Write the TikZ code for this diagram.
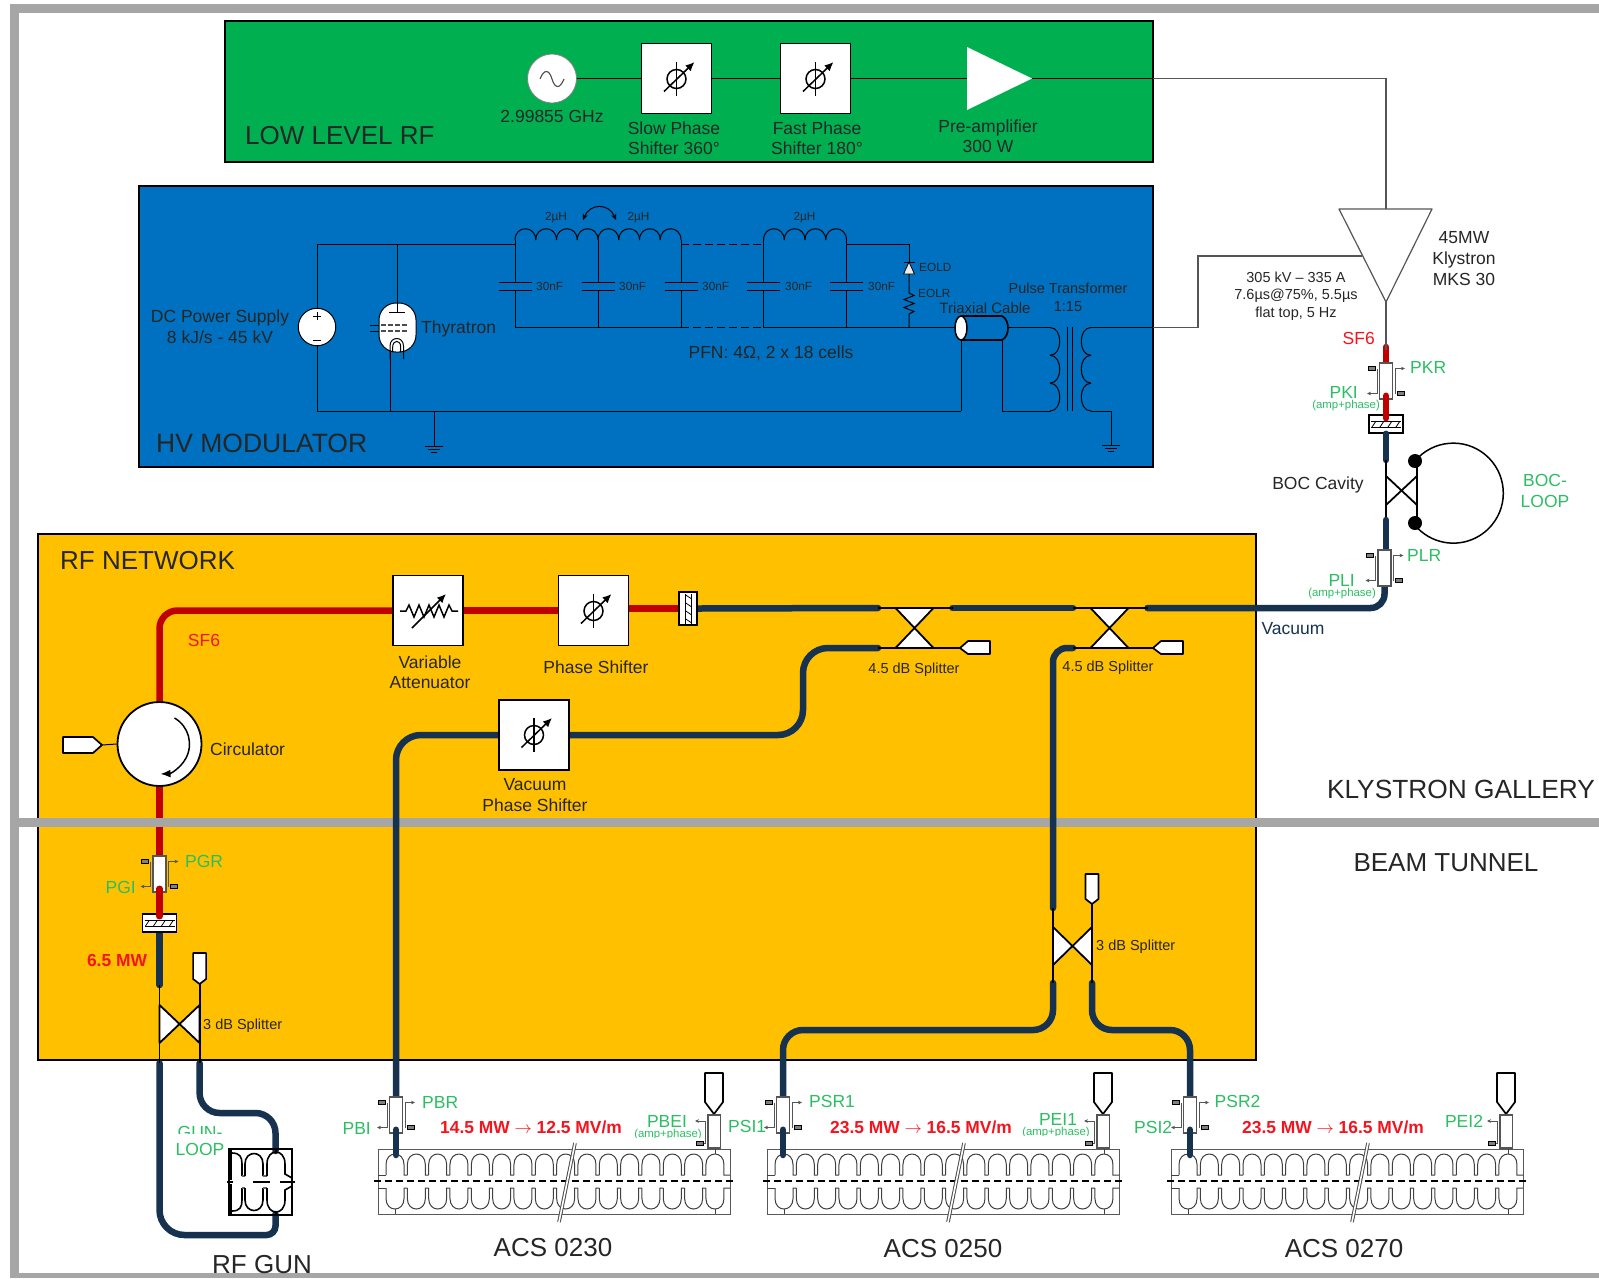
\documentclass[tikz,border=0pt]{standalone}
\usepackage{fontspec}
\setmainfont{Liberation Sans}
\usetikzlibrary{arrows.meta,calc,shapes.geometric}
\pgfdeclarelayer{bglay}\pgfdeclarelayer{redlay}\pgfdeclarelayer{bandlay}\pgfdeclarelayer{navylay}\pgfdeclarelayer{fglay}
\pgfsetlayers{bglay,redlay,bandlay,navylay,main,fglay}
\definecolor{cgreen}{HTML}{00B050}
\definecolor{cblue}{HTML}{0070C0}
\definecolor{corange}{HTML}{FFC000}
\definecolor{cband}{HTML}{A6A6A6}
\definecolor{cred}{HTML}{C00000}
\definecolor{cnavy}{HTML}{17324F}
\definecolor{lgreen}{HTML}{2BBF62}
\definecolor{lred}{HTML}{F5141E}
\definecolor{tdark}{HTML}{262626}
\definecolor{wgray}{HTML}{555555}
\newcommand{\fsz}[1]{\fontsize{#1}{#1}\selectfont}
\tikzset{
  t26/.style={inner sep=0pt,align=center,text=tdark,font=\fsz{26}},
  t17/.style={inner sep=0pt,align=center,text=tdark,font=\fontsize{17.5}{20.5}\selectfont},
  t14/.style={inner sep=0pt,align=center,text=tdark,font=\fontsize{14.5}{17.5}\selectfont},
  t12/.style={inner sep=0pt,align=center,text=tdark,font=\fsz{11.8}},
  g17/.style={t17,text=lgreen},
  g11/.style={inner sep=0pt,text=lgreen,font=\fsz{11.4}},
  rb17/.style={inner sep=0pt,text=lred,font=\fsz{17.4}\bfseries},
  areabox/.style={draw=black,line width=1.6pt},
  wire/.style={draw=black,line width=1pt},
  gwire/.style={draw=wgray,line width=1.2pt},
  thin wg/.style={draw=black,line width=1.8pt},
  redw/.style={draw=cred,line width=6.5pt,line cap=round},
  navyw/.style={draw=cnavy,line width=6.5pt,line cap=round},
  whitebox/.style={draw=black,fill=white,line width=1.8pt,minimum width=70pt,minimum height=70pt,inner sep=0pt},
  coupl/.style={draw=wgray,fill=white,line width=1.5pt,minimum width=13pt,minimum height=36pt,inner sep=0pt},
  arm/.style={draw=wgray,line width=1pt},
  armarrow/.style={draw=wgray,line width=1pt,-{Stealth[length=4pt,width=3.6pt]}},
  term/.style={draw=black,fill=gray,line width=.6pt},
  loadsh/.style={draw=black,fill=white,line width=1.7pt,line join=round},
  splw/.style={draw=black,fill=white,line width=1.8pt,line join=round},
  cav/.style={draw=black!75,line width=1pt},
  winbox/.style={draw=black,fill=white,line width=1.6pt,inner sep=0pt},
  symb/.style={draw=black,line width=1.5pt},
  symba/.style={draw=black,line width=1.5pt,-{Latex[length=9pt,width=8pt]}},
  phasesym/.pic={
    \draw[symb] (0,0) circle[radius=9.5];
    \draw[symb] (0,-17) -- (0,17);
    \draw[symba] (-12.5,12.5) -- (18,-17);
  },
  winh/.pic={
    \draw[black,line width=1pt] (-15,-3) -- (15,-3) (-15,3) -- (15,3);
    \foreach \q in {-12,-4,4,12}{\draw[black,line width=.8pt] (\q-2,3) -- (\q+2,-3);}
  },
}
\newcommand{\CouplerBoth}[3]{%
  \node[coupl] (#1) at (#2,#3) {};
  \begin{scope}[shift={(#2,#3)}]
    \draw[armarrow] (-9,-12.5) -- (-9,12.5) -- (-19,12.5);
    \draw[armarrow] (9,12.5) -- (9,-12.5) -- (19,-12.5);
    \draw[term] (-18,-14.5) rectangle (-11,-10.5);
    \draw[term] (11,10.5) rectangle (18,14.5);
  \end{scope}}
\newcommand{\CouplerLeft}[3]{%
  \node[coupl,minimum height=33pt,minimum width=12.5pt] (#1) at (#2,#3) {};
  \begin{scope}[shift={(#2,#3)}]
    \draw[armarrow] (-8.5,11.5) -- (-8.5,-10.5) -- (-19,-10.5);
    \draw[arm] (-8.5,11.5) -- (-11,11.5);
    \draw[term] (-18,9.5) rectangle (-11,13.5);
  \end{scope}}
\newcommand{\TopLoad}[2]{%
  \draw[loadsh] (#2-9,1073) -- (#2+9,1073) -- (#2+9,1102) -- (#2,1114) -- (#2-9,1102) -- cycle;
  \coordinate (#1) at (#2,1114);}
\newcommand{\Accel}[2]{%
  \node[draw=black!65,line width=1pt,minimum width=352pt,minimum height=65pt,inner sep=0pt] (#2) at (#1+176,1181.5) {};
  \foreach \sgn in {1,-1}{
    \begin{scope}[shift={(#1,1181.5)},yscale=\sgn]
      \draw[cav] (0,-6.5) -- (8,-6.5);
      \foreach \i in {0,...,15}{
        \pgfmathsetmacro\xa{8+\i*21.33}
        \pgfmathsetmacro\xb{\xa+18}
        \pgfmathsetmacro\xc{\i<15 ? \xb+3.33 : 352}
        \draw[cav] (\xa,-6.5) -- (\xa,-17) .. controls (\xa,-31) and (\xb,-31) .. (\xb,-17) -- (\xb,-6.5) -- (\xc,-6.5);
      }
      \draw[cav] (17,-27.5) -- (17,-32.5);
      \draw[cav] (337,-27.5) -- (337,-32.5);
    \end{scope}}
  \draw[black,line width=1.2pt,dash pattern=on 7pt off 4pt] (#1-4,1181) -- (#1+357,1181);
  \draw[black!70,line width=3.6pt] (#1+197,1143) -- (#1+181,1222);
  \draw[white,line width=1.6pt] (#1+197,1143) -- (#1+181,1222);}
\newcommand{\Inductor}[1]{%
  \draw[wire] (#1,244) -- (#1,240);
  \foreach \i in {0,1,2,3}{
    \draw[wire] ({#1+\i*20.75},240) .. controls +(0,-15) and +(0,-15) .. ({#1+(\i+1)*20.75},240);}
  \draw[wire] (#1+83,240) -- (#1+83,244);}
\newcommand{\Capac}[1]{%
  \draw[wire] (#1,244) -- (#1,282) (#1,290) -- (#1,327.5);
  \draw[wire] (#1-16.5,282) -- (#1+16.5,282) (#1-16.5,290) -- (#1+16.5,290);}
\newcommand{\Ground}[2]{%
  \draw[wire] (#1-9,#2) -- (#1+9,#2);
  \draw[wire] (#1-6,#2+3) -- (#1+6,#2+3);
  \draw[wire] (#1-3,#2+6) -- (#1+3,#2+6);}
\begin{document}
\begin{tikzpicture}[x=1pt,y=-1pt]
\useasboundingbox (0,0) rectangle (1599,1278);
\begin{pgfonlayer}{bglay}
  \fill[white] (0,0) rectangle (1599,1278);
  \node[areabox,fill=cgreen,minimum width=928pt,minimum height=141pt,inner sep=0pt] (llrfbox) at (689,91.5) {};
  \node[areabox,fill=cblue,minimum width=1014pt,minimum height=281pt,inner sep=0pt] (hvbox) at (646,326.5) {};
  \node[areabox,fill=corange,minimum width=1218pt,minimum height=526pt,inner sep=0pt] (netbox) at (647,797) {};
\end{pgfonlayer}
\begin{pgfonlayer}{bandlay}
  \fill[cband] (10,4) rectangle (1599,13);
  \fill[cband] (10,4) rectangle (18.5,1278);
  \fill[cband] (10,1273) rectangle (1599,1278);
  \fill[cband] (10,818) rectangle (1599,827);
\end{pgfonlayer}

% ---- LOW LEVEL RF
\node[draw=black!50,fill=white,circle,minimum size=49pt,inner sep=0pt,line width=.8pt] (sine) at (552,78.5) {};
\draw[black!70,line width=1.1pt] (540,79) .. controls (544,69) and (549,69) .. (552,79) .. controls (555,89) and (560,89) .. (564,79);
\node[whitebox] (ps1) at (676.5,78.5) {};
\node[whitebox] (ps2) at (815.5,78.5) {};
\pic at (676.5,79) {phasesym};
\pic at (815.5,79) {phasesym};
\coordinate (ampa) at (967,47);
\coordinate (ampb) at (967,110);
\coordinate (ampt) at (1032,78.5);
\fill[white] (ampa) -- (ampt) -- (ampb) -- cycle;
\draw[wire] (sine.east) -- (ps1.west);
\draw[wire] (ps1.east) -- (ps2.west);
\draw[wire] (ps2.east) -- (ampa |- ps2.east);
\coordinate (llrfr) at (1153,78.5);
\coordinate (klyup) at (1386,78.5);
\coordinate (klytopc) at (1386,209);
\draw[wire] (ampt) -- (llrfr);
\draw[gwire] (llrfr) -- (klyup) -- (klytopc);
\node[t26,anchor=west] (tllrf) at (245,136) {LOW LEVEL RF};
\node[t17] (tfreq) at (552,116) {2.99855 GHz};
\node[t17] (tslow) at (674,138) {Slow Phase\\Shifter 360°};
\node[t17] (tfast) at (817,138) {Fast Phase\\Shifter 180°};
\node[t17] (tpre) at (988,136) {Pre-amplifier\\300 W};

% ---- HV MODULATOR
\node[draw=black,fill=white,circle,minimum size=37.5pt,inner sep=0pt,line width=1pt] (dcsrc) at (317,327) {};
\draw[black,line width=1pt] (313,316) -- (321,316) (317,312) -- (317,320) (313,340) -- (321,340);
\coordinate (wiretl) at (317,244);
\coordinate (wirebl) at (317,411);
\coordinate (wiretr) at (515,244);
\coordinate (wirebot) at (961,411);
\draw[wire] (dcsrc.north) -- (wiretl) -- (wiretr);
\draw[wire] (dcsrc.south) -- (wirebl) -- (wirebot);
\node[draw=black,fill=white,rounded corners=17pt,minimum width=37pt,minimum height=49pt,inner sep=0pt,line width=1pt] (thy) at (397.5,327.5) {};
\draw[wire] (397,244) -- (397,312);
\draw[wire] (389,312) -- (405,312);
\draw[wire] (370,325) -- (379,325) (370,331) -- (379,331);
\draw[black!70,line width=1.3pt,dash pattern=on 5pt off 2pt] (381,325) -- (408,325) (381,331) -- (408,331);
\draw[wire] (390,359) -- (390,346) .. controls (390,336) and (403.5,336) .. (403.5,346) -- (403.5,359);
\draw[wire] (392.7,352) -- (392.7,347) .. controls (392.7,339.5) and (400.7,339.5) .. (400.7,347) -- (400.7,352);
\draw[wire] (390,352) -- (390,411);
\draw[wire] (434,411) -- (434,446);
\Ground{434}{446}
\node[t17] (tdc) at (220,326.5) {DC Power Supply\\8 kJ/s - 45 kV};
\node[t17,anchor=west,text=black!85] (tthy) at (421,329) {Thyratron};
\node[t26,anchor=west,font=\fsz{26.5}] (thv) at (156,443) {HV MODULATOR};

\Inductor{515}
\Inductor{598}
\Inductor{763.5}
\Capac{515}
\Capac{598}
\Capac{681}
\Capac{763.5}
\Capac{846.5}
\coordinate (pfnb) at (515,327.5);
\coordinate (triaxl) at (955,327.5);
\draw[wire,dash pattern=on 8pt off 4pt] (681,244) -- (763.5,244);
\draw[wire,dash pattern=on 8pt off 4pt] (681,327.5) -- (763.5,327.5);
\draw[wire] (pfnb) -- (681,327.5);
\draw[wire] (763.5,327.5) -- (triaxl);
\draw[wire] (846.5,244) -- (909,244) -- (909,262);
\draw[wire] (903.5,262) -- (914.5,262);
\draw[draw=black,fill=white!85!gray,line width=.8pt] (909,262) -- (914.5,274) -- (903.5,274) -- cycle;
\draw[wire] (909,274) -- (909,293) -- (914,295.5) -- (904,299.5) -- (914,303.5) -- (904,307.5) -- (914,311.5) -- (909,314) -- (909,327.5);
% triaxial cable
\draw[black,fill=cblue,line width=1.7pt] (961,316) -- (1002,316) .. controls (1010,320) and (1010,336) .. (1002,340) -- (961,340);
\node[draw=black,fill=white,ellipse,minimum width=12pt,minimum height=24pt,inner sep=0pt,line width=1.5pt] (triax) at (961,328) {};
\draw[wire] (triax.south) -- (wirebot);
\coordinate (secb) at (1002,411);
\draw[wire] (1002,340) -- (secb) -- (1051,411);
\draw[wire] (1007,327.5) -- (1050,327.5);
\foreach \yy in {327.5,355.3,383.2}{
  \draw[wire] (1050,\yy) .. controls +(13,0) and +(13,0) .. (1050,\yy+27.8);
  \draw[wire] (1091,\yy) .. controls +(-13,0) and +(-13,0) .. (1091,\yy+27.8);
}
\draw[wire] (1067,327) -- (1067,411) (1072,327) -- (1072,411);
\coordinate (secu) at (1198,327.5);
\coordinate (secv) at (1198,256);
\coordinate (klyl) at (1362,256);
\draw[wire] (1091,327.5) -- (1153,327.5);
\draw[gwire] (1153,327.5) -- (secu) -- (secv) -- (klyl);
\draw[wire] (1091,411) -- (1111,411) -- (1111,445);
\Ground{1111}{445}
\foreach \n/\x in {a/556,b/638.5,c/804.5}{\node[t12,text=black!85] (lh\n) at (\x,218) {2µH};}
\draw[wire,{Stealth[length=6pt,width=5pt]}-{Stealth[length=6pt,width=5pt]}] (583,220) .. controls (590,203) and (609,203) .. (616,220);
\foreach \n/\x in {a/536,b/619,c/702,d/785,e/868}{\node[t12,anchor=west,text=black!85] (lc\n) at (\x,286) {30nF};}
\node[t12,anchor=west,text=black!85] (teold) at (919,267) {EOLD};
\node[t12,anchor=west,text=black!85] (teolr) at (918,293.5) {EOLR};
\node[inner sep=0pt,text=black!85,font=\fsz{15}] (ttri) at (985,308) {Triaxial Cable};
\node[t14,text=black!85] (tpt) at (1068,297.5) {Pulse Transformer\\1:15};
\node[t17,text=black!85] (tpfn) at (771,353) {PFN: 4Ω, 2 x 18 cells};

% ---- Klystron
\coordinate (kl) at (1339,209);
\coordinate (kr) at (1432,209);
\coordinate (kt) at (1386,302);
\draw[gwire,fill=white,line join=round] (kl) -- (kr) -- (kt) -- cycle;
\node[inner sep=0pt,align=center,text=tdark,font=\fontsize{17.5}{21.3}\selectfont] (tkly) at (1464,258.5) {45MW\\Klystron\\MKS 30};
\node[inner sep=0pt,align=center,text=tdark,font=\fontsize{14.5}{17.6}\selectfont] (tpulse) at (1296,296) {305 kV – 335 A\\7.6µs@75\%, 5.5µs\\flat top, 5 Hz};
\node[t17,text=lred,anchor=east] (tsf1) at (1375,338) {SF6};
\coordinate (kred) at (1386,347);
\draw[gwire] (kt) -- (1386,350);
\CouplerBoth{pkr}{1386}{381}
\node[winbox,minimum width=34pt,minimum height=18pt] (wink) at (1386,424) {};
\pic at (1386,424) {winh};
\begin{pgfonlayer}{redlay}
  \draw[redw] (kred) -- (pkr.north);
\end{pgfonlayer}
\begin{pgfonlayer}{fglay}
  \draw[redw] ([yshift=4pt]pkr.south) -- ([yshift=-4pt]wink.north);
\end{pgfonlayer}
\node[g17,anchor=west] (lpkr) at (1410,367) {PKR};
\node[g17,anchor=east] (lpki) at (1358,392.5) {PKI};
\node[g11,anchor=east] (lpkia) at (1380,406) {(amp+phase)};
\coordinate (bocu) at (1386,460);
\coordinate (bocd) at (1386,520);
\draw[navyw] (wink.south) -- (bocu);
\draw[thin wg] (bocu) -- (bocd);
\draw[navyw] (bocd) -- (1386,552);
\node[draw=none,fill=black,circle,minimum size=14pt,inner sep=0pt] (dota) at (1415,461) {};
\node[draw=none,fill=black,circle,minimum size=14pt,inner sep=0pt] (dotb) at (1415,523) {};
\draw[thin wg] (1417,461) -- (1417,523);
\draw[thin wg] (1386,476) -- (1417,505) (1386,505) -- (1417,476);
\draw[black,line width=1.5pt] (1415,461) arc[start angle=-140,end angle=140,radius=50];
\node[t17] (tboc) at (1318,484.5) {BOC Cavity};
\node[g17] (lboc) at (1545,491) {BOC-\\LOOP};
\CouplerBoth{plr}{1384.5}{568}
\node[g17,anchor=west] (lplr) at (1407,555) {PLR};
\node[g17,anchor=east] (lpli) at (1355,580.5) {PLI};
\node[g11,anchor=east] (lplia) at (1376,594) {(amp+phase)};

% ---- RF network
\node[t26,anchor=west] (tnet) at (60,561) {RF NETWORK};
\node[whitebox] (att) at (428,610.5) {};
\draw[symb] (400,611) -- (406,611) -- (409,605) -- (414,617) -- (419,605) -- (424,617) -- (429,605) -- (434,617) -- (439,605) -- (444,617) -- (449,605) -- (452,611) -- (458,611);
\draw[symba] (412,628) -- (446,594);
\node[whitebox] (psn) at (593.5,610.5) {};
\pic at (593.5,611) {phasesym};
\node[winbox,minimum width=18pt,minimum height=33pt] (winr) at (688,608.5) {};
\pic[rotate=90] at (688,608.5) {winh};
\node[whitebox] (vps) at (534,735) {};
\pic at (534,735) {phasesym};
\node[draw=black,fill=white,circle,minimum size=84pt,inner sep=0pt,line width=1.8pt] (circ) at (159.5,744) {};
\draw[black,line width=1.5pt,-{Latex[length=10pt,width=8pt]}] (174.5,718) arc[start angle=-60,end angle=88,radius=30];
\coordinate (clt) at (102,745);
\draw[loadsh] (63,737) -- (93,737) -- (clt) -- (93,753) -- (63,753) -- cycle;
\draw[wire] (clt) -- (circ.west);
\coordinate (redcorner) at (159.5,610.5);
\CouplerBoth{pg}{159.5}{874}
\node[winbox,minimum width=34pt,minimum height=18pt] (winp) at (159.5,923) {};
\pic at (159.5,923) {winh};
\begin{pgfonlayer}{redlay}
  \draw[redw,rounded corners=18pt] (circ.north) -- (redcorner) -- (att.west);
  \draw[redw] (att.east) -- (psn.west);
  \draw[redw] (psn.east |- winr.west) -- (winr.west);
  \draw[redw] (circ.south) -- (pg.north);
\end{pgfonlayer}
\begin{pgfonlayer}{fglay}
  \draw[redw] ([yshift=4pt]pg.south) -- ([yshift=-3pt]winp.north);
\end{pgfonlayer}
\node[t17,text=lred] (tsf2) at (204,640) {SF6};
\node[t17] (tvar) at (430,672) {Variable\\Attenuator};
\node[t17] (tpsn) at (596,667) {Phase Shifter};
\node[t17] (tvps) at (535,795) {Vacuum\\Phase Shifter};
\node[t17,anchor=west] (tcirc) at (210,749) {Circulator};
\node[g17,anchor=west] (lpgr) at (185,861) {PGR};
\node[g17,anchor=east] (lpgi) at (136,887) {PGI};
\node[rb17] (t65) at (117,960) {6.5 MW};
\node[t17,text=cnavy] (tvac) at (1293,629) {Vacuum};
\node[t26,font=\fsz{26.3}] (tkg) at (1461,789) {KLYSTRON GALLERY};
\node[t26] (tbt) at (1446,863) {BEAM TUNNEL};

% 4.5 dB splitters
\foreach \n/\xx/\lx in {a/914.5/960,b/1109.5/1153}{
  \coordinate (sp\n tl) at (\xx-36.5,608);
  \coordinate (sp\n tr) at (\xx+38,608);
  \coordinate (sp\n bl) at (\xx-36.5,648);
  \coordinate (sp\n br) at (\lx,648);
  \draw[splw] (\xx-19,608) -- (\xx+19,608) -- (\xx-19,648) -- (\xx+19,648) -- cycle;
  \draw[thin wg] (sp\n tl) -- (sp\n tr);
  \draw[thin wg] (sp\n bl) -- (sp\n br);
  \draw[loadsh] (\lx,648) -- (\lx+8,641) -- (\lx+30,641) -- (\lx+30,654) -- (\lx+8,654) -- cycle;
}
\node[t14] (tsa) at (914,670) {4.5 dB Splitter};
\node[t14] (tsb) at (1108,668) {4.5 dB Splitter};

% 3 dB splitters
\foreach \n/\xl/\xr/\yt/\ybt/\lt/\ls/\wa/\wb in {c/159.5/199.6/1005/1043/953/979/985/1063,d/1053/1092/927/965/874/899/908/983}{
  \coordinate (sp\n in) at (\xl,\wa);
  \coordinate (sp\n ol) at (\xl,\wb);
  \coordinate (sp\n or) at (\xr,\wb);
  \draw[splw] (\xl,\yt) -- (\xr,\ybt) -- (\xr,\yt) -- (\xl,\ybt) -- cycle;
  \draw[thin wg] (sp\n in) -- (sp\n ol);
  \draw[thin wg] (\xr,\ls+4) -- (sp\n or);
  \draw[loadsh] (\xr-6.5,\lt) -- (\xr+6.5,\lt) -- (\xr+6.5,\ls) -- (\xr,\ls+5) -- (\xr-6.5,\ls) -- cycle;
}
\node[t14,anchor=west] (tsc) at (203,1026) {3 dB Splitter};
\node[t14,anchor=west] (tsd) at (1096,947) {3 dB Splitter};

% ---- Accelerating sections
\Accel{378}{acsa}
\Accel{767}{acsb}
\Accel{1171}{acsc}
\node[t26] (tacsa) at (553,1248) {ACS 0230};
\node[t26] (tacsb) at (943,1248.5) {ACS 0250};
\node[t26] (tacsc) at (1344,1248.5) {ACS 0270};
\CouplerBoth{pbr}{396}{1115}
\CouplerBoth{psra}{783}{1115}
\CouplerBoth{psrb}{1190}{1115}
\TopLoad{lda}{714}
\TopLoad{ldb}{1103}
\TopLoad{ldc}{1506}
\CouplerLeft{pbei}{714}{1131.5}
\CouplerLeft{peia}{1103}{1131.5}
\CouplerLeft{peib}{1506}{1131.5}
\coordinate (acspa) at (396,1155);
\coordinate (acspb) at (783,1155);
\coordinate (acspc) at (1190,1155);
\begin{pgfonlayer}{fglay}
  \draw[navyw] ([yshift=4pt]pbr.south) -- (acspa);
  \draw[navyw] ([yshift=4pt]psra.south) -- (acspb);
  \draw[navyw] ([yshift=4pt]psrb.south) -- (acspc);
\end{pgfonlayer}
\node[g17,anchor=west] (lpbr) at (422,1102) {PBR};
\node[g17,anchor=east] (lpbi) at (371,1128) {PBI};
\node[g17] (lpbei) at (667,1121) {PBEI};
\begin{scope}
  \clip (625,1128) rectangle (705,1137.5);
  \node[g11] (lpbeia) at (668,1134.5) {(amp+phase)};
\end{scope}
\node[g17,anchor=west] (lpsia) at (728,1126) {PSI1};
\node[g17,anchor=west] (lpsra) at (809,1101) {PSR1};
\node[g17] (lpeia) at (1058,1119) {PEI1};
\begin{scope}
  \clip (1015,1126) rectangle (1095,1135);
  \node[g11] (lpeiaa) at (1056,1132.5) {(amp+phase)};
\end{scope}
\node[g17,anchor=west] (lpsib) at (1134,1127) {PSI2};
\node[g17,anchor=west] (lpsrb) at (1214.5,1101) {PSR2};
\node[g17] (lpeib) at (1464,1121) {PEI2};
\node[rb17] (rfa) at (531,1127) {14.5 MW $\rightarrow$ 12.5 MV/m};
\node[rb17] (rfb) at (921,1127) {23.5 MW $\rightarrow$ 16.5 MV/m};
\node[rb17] (rfc) at (1333,1127) {23.5 MW $\rightarrow$ 16.5 MV/m};

% ---- RF gun
\node[draw=black,line width=1.1pt,minimum width=63pt,minimum height=66pt,inner sep=0pt] (gun) at (260.5,1182) {};
\foreach \sgn in {1,-1}{
  \begin{scope}[shift={(0,1182)},yscale=\sgn]
    \draw[black,line width=1.7pt] (231,-32) -- (231,-2);
    \draw[black,line width=1.6pt] (232,-29) .. controls (240,-29) and (242,-25) .. (242,-18) -- (242,-6);
    \draw[black!60,line width=1.4pt] (242,-6) -- (245,-6);
    \draw[black,line width=1.6pt] (245,-6) -- (245,-18) .. controls (245,-32) and (263,-32) .. (263,-18) -- (263,-6);
    \draw[black!60,line width=1.4pt] (263,-6) -- (267,-6);
    \draw[black,line width=1.6pt] (267,-6) -- (267,-18) .. controls (267,-34) and (285,-34) .. (285,-18) -- (285,-8) -- (292,-4);
    \draw[black,line width=1.4pt] (276,-30) -- (276,-33);
  \end{scope}}
\draw[black,line width=1.9pt] (227,1182) -- (233,1182) (253,1182) -- (270,1182) (280,1182) -- (295,1182);
\begin{scope}
  \clip (165,1120) rectangle (228,1133.5);
  \node[g17] (lgun) at (200,1132) {GUN-};
\end{scope}
\node[g17] (lloop) at (200,1149) {LOOP};
\begin{scope}
  \clip (150,1240) rectangle (400,1273);
  \node[t26] (trfg) at (262,1265) {RF GUN};
\end{scope}

% ---- Navy waveguides
\begin{pgfonlayer}{navylay}
  \coordinate (na) at (1384.5,608);
  \coordinate (nb) at (803,648);
  \coordinate (nc) at (803,735);
  \coordinate (nd) at (396,735);
  \coordinate (ne) at (1053,648);
  \coordinate (nf) at (1053,1030);
  \coordinate (ng) at (783,1030);
  \coordinate (nh) at (1092,1030);
  \coordinate (ni) at (1190,1030);
  \coordinate (nj) at (159.5,1235);
  \coordinate (nk) at (275.5,1235);
  \coordinate (nl) at (275.5,1214);
  \coordinate (nm) at (199.6,1113);
  \coordinate (nn) at (275.5,1113);
  \coordinate (no) at (275.5,1151);
  \draw[navyw] (winr.east) -- (spatl);
  \draw[navyw] (spatr) -- (spbtl);
  \draw[navyw,rounded corners=14pt] (spbtr) -- (na) -- (plr.south);
  \draw[navyw,rounded corners=25pt] (spabl) -- (nb) -- (nc) -- (vps.east);
  \draw[navyw,rounded corners=25pt] (vps.west) -- (nd) -- (pbr.north);
  \draw[navyw,rounded corners=14pt] (spbbl) -- (ne) -- (spdin);
  \draw[navyw,rounded corners=20pt] (spdol) -- (nf) -- (ng) -- (psra.north);
  \draw[navyw,rounded corners=20pt] (spdor) -- (nh) -- (ni) -- (psrb.north);
  \draw[navyw] (winp.south) -- (spcin);
  \draw[navyw,rounded corners=25pt] (spcol) -- (nj) [rounded corners=9pt] -- (nk) -- (nl);
  \draw[navyw,rounded corners=20pt] (spcor) -- (nm) -- (nn) -- (no);
\end{pgfonlayer}
\end{tikzpicture}
\end{document}
